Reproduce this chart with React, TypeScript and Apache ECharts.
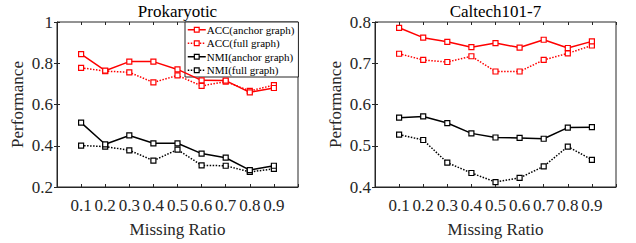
import React, { useEffect, useRef } from "react";
import * as echarts from "echarts";

const ratios = [0.1, 0.2, 0.3, 0.4, 0.5, 0.6, 0.7, 0.8, 0.9];
const seriesNames = ["ACC(anchor graph)", "ACC(full graph)", "NMI(anchor graph)", "NMI(full graph)"];
const titles = ["Prokaryotic", "Caltech101-7"];

const prokAccAnchor = [0.844, 0.764, 0.808, 0.808, 0.77, 0.717, 0.716, 0.659, 0.68];
const prokAccFull = [0.778, 0.762, 0.756, 0.707, 0.741, 0.69, 0.711, 0.666, 0.694];
const prokNmiAnchor = [0.512, 0.407, 0.45, 0.412, 0.412, 0.362, 0.342, 0.282, 0.303];
const prokNmiFull = [0.401, 0.396, 0.378, 0.328, 0.381, 0.305, 0.303, 0.273, 0.288];

const calAccAnchor = [0.786, 0.762, 0.752, 0.739, 0.749, 0.738, 0.757, 0.737, 0.753];
const calAccFull = [0.723, 0.708, 0.703, 0.717, 0.68, 0.68, 0.708, 0.724, 0.743];
const calNmiAnchor = [0.568, 0.571, 0.555, 0.53, 0.52, 0.519, 0.517, 0.544, 0.545];
const calNmiFull = [0.527, 0.514, 0.459, 0.434, 0.412, 0.422, 0.45, 0.498, 0.466];

const yRanges = [
  { min: 0.2, max: 1, interval: 0.2 },
  { min: 0.4, max: 0.8, interval: 0.1 },
];

const FONT = "'Liberation Serif', 'Times New Roman', serif";

export default function App() {
  const ref = useRef<HTMLDivElement>(null);
  useEffect(() => {
    const chart = echarts.init(ref.current!, null, { renderer: "svg" });
    const gridLefts = [57, 375];
    const data = [
      [prokAccAnchor, prokAccFull, prokNmiAnchor, prokNmiFull],
      [calAccAnchor, calAccFull, calNmiAnchor, calNmiFull],
    ];
    const colors = ["#ff0000", "#ff0000", "#000000", "#000000"];
    const types = ["solid", "dotted", "solid", "dotted"];

    const grid: any[] = [];
    const xAxis: any[] = [];
    const yAxis: any[] = [];
    const series: any[] = [];
    const title: any[] = [];

    for (let p = 0; p < 2; p++) {
      grid.push({
        left: gridLefts[p],
        top: 22,
        width: 241,
        height: 173,
        show: true,
        borderColor: "#262626",
        borderWidth: 1,
      });
      title.push({
        text: titles[p],
        left: gridLefts[p] + 120.5,
        textAlign: "center",
        top: 3,
        padding: 0,
        textStyle: { fontFamily: FONT, fontSize: 17, fontWeight: "normal", color: "#000" },
      });
      const xi = xAxis.length;
      xAxis.push({
        type: "value",
        gridIndex: p,
        min: 0,
        max: 1,
        interval: 0.1,
        name: "Missing Ratio",
        nameLocation: "middle",
        nameGap: 34,
        nameTextStyle: { fontFamily: FONT, fontSize: 17, color: "#262626" },
        axisLine: { lineStyle: { color: "#262626" } },
        axisTick: { inside: true, length: 3, lineStyle: { color: "#262626" } },
        splitLine: { show: false },
        axisLabel: {
          fontFamily: FONT,
          fontSize: 17,
          color: "#262626",
          margin: 10,
          formatter: (v: number) => (v > 0.05 && v < 0.95 ? v.toFixed(1) : ""),
        },
      });
      xAxis.push({
        type: "value",
        gridIndex: p,
        position: "top",
        min: 0,
        max: 1,
        interval: 0.1,
        axisLine: { show: false },
        axisTick: { inside: true, length: 3, lineStyle: { color: "#262626" } },
        splitLine: { show: false },
        axisLabel: { show: false },
      });
      const yi = yAxis.length;
      const r = yRanges[p];
      yAxis.push({
        type: "value",
        gridIndex: p,
        min: r.min,
        max: r.max,
        interval: r.interval,
        name: "Performance",
        nameLocation: "middle",
        nameGap: 31,
        nameTextStyle: { fontFamily: FONT, fontSize: 17, color: "#262626" },
        axisLine: { show: true, lineStyle: { color: "#262626" } },
        axisTick: { show: true, inside: true, length: 3, lineStyle: { color: "#262626" } },
        splitLine: { show: false },
        axisLabel: {
          fontFamily: FONT,
          fontSize: 17,
          color: "#262626",
          margin: 4,
          formatter: (v: number) => (p === 0 && Math.abs(v - 1) < 1e-6 ? "1" : v.toFixed(1)),
        },
      });
      yAxis.push({
        type: "value",
        gridIndex: p,
        position: "right",
        min: r.min,
        max: r.max,
        interval: r.interval,
        axisLine: { show: false },
        axisTick: { show: true, inside: true, length: 3, lineStyle: { color: "#262626" } },
        splitLine: { show: false },
        axisLabel: { show: false },
      });
      for (let s = 0; s < 4; s++) {
        series.push({
          type: "line",
          name: seriesNames[s],
          xAxisIndex: xi,
          yAxisIndex: yi,
          data: ratios.map((x, i) => [x, data[p][s][i]]),
          symbol: "rect",
          symbolSize: 5,
          showSymbol: true,
          color: colors[s],
          lineStyle: { color: colors[s], width: 1.5, type: types[s] },
          itemStyle: { color: "#ffffff", borderColor: colors[s], borderWidth: 1.2 },
          z: 5 - s,
        });
      }
    }

    chart.setOption({
      animation: false,
      title,
      grid,
      xAxis,
      yAxis,
      series,
      legend: {
        data: seriesNames.map((n, i) => ({
          name: n,
          lineStyle: { type: types[i], width: 1.5, color: colors[i] },
          itemStyle: { color: "#ffffff", borderColor: colors[i], borderWidth: 1.2 },
        })),
        orient: "vertical",
        left: 185,
        top: 22,
        width: 113,
        padding: [2, 4, 1, 2],
        itemGap: 2,
        itemWidth: 18,
        itemHeight: 6,
        backgroundColor: "#ffffff",
        borderColor: "#262626",
        borderWidth: 1,
        borderRadius: 0,
        textStyle: { fontFamily: FONT, fontSize: 11, lineHeight: 11.5, color: "#000", padding: [0, 0, 0, -4] },
      },
    });
    return () => chart.dispose();
  }, []);
  return (
    <div
      ref={ref}
      style={{ position: "absolute", left: 0, top: 0, width: 636, height: 243 }}
    />
  );
}
